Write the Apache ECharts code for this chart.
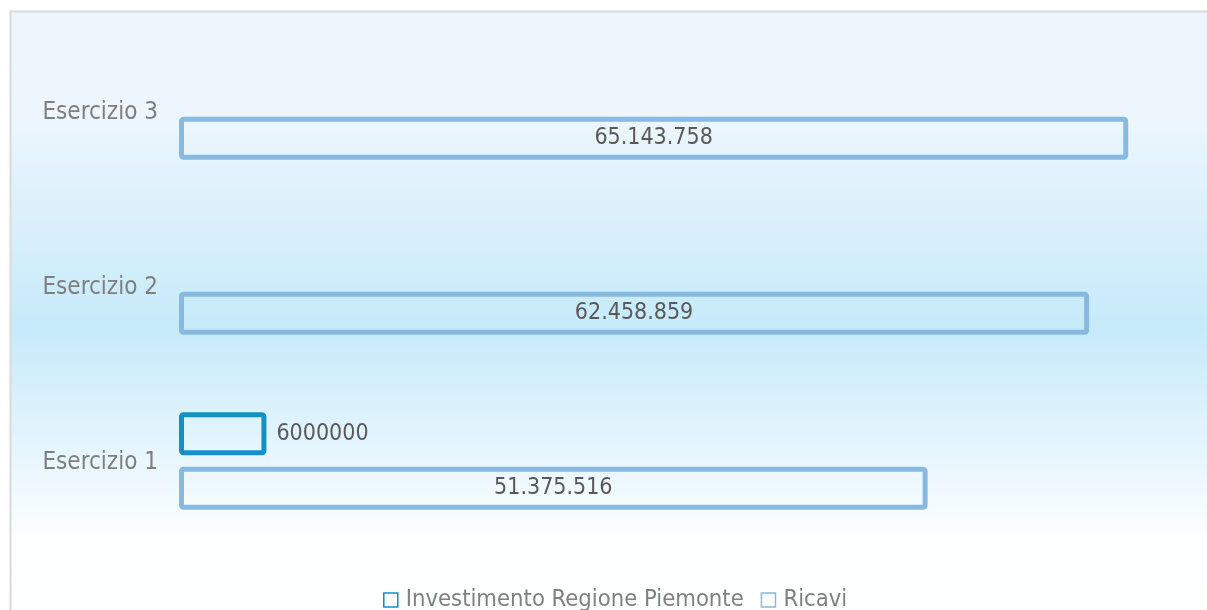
<!DOCTYPE html>
<html>
<head>
<meta charset="utf-8">
<script src="https://cdn.jsdelivr.net/npm/echarts@6/dist/echarts.min.js"></script>
<style>
  html, body { margin: 0; padding: 0; background: #ffffff; }
  #chart { width: 1207px; height: 610px; }
</style>
</head>
<body>
<div id="chart"></div>
<script>
// Categories (bottom to top) and series values
const categories = ['Esercizio 1', 'Esercizio 2', 'Esercizio 3'];
const investimento = [6000000, null, null];
const ricavi = [51375516, 62458859, 65143758];
const seriesNames = ['Investimento Regione Piemonte', 'Ricavi'];

const FONT = '"DejaVu Sans Condensed", "DejaVu Sans", sans-serif';

// Italian thousands separator: 65143758 -> 65.143.758
function formatDots(v) {
  return String(v).replace(/\B(?=(\d{3})+(?!\d))/g, '.');
}

const chart = echarts.init(document.getElementById('chart'), null, { renderer: 'canvas' });

chart.setOption({
  animation: false,
  backgroundColor: '#ffffff',
  graphic: [{
    type: 'rect',
    z: -10,
    silent: true,
    shape: { x: 10.5, y: 11.5, width: 1210, height: 610 },
    style: {
      stroke: '#dadada',
      lineWidth: 2,
      fill: {
        type: 'linear', x: 0, y: 0, x2: 0, y2: 1,
        colorStops: [
          { offset: 0, color: '#eef5fd' },
          { offset: 0.17, color: '#edf6fd' },
          { offset: 0.52, color: '#c6eafa' },
          { offset: 0.86, color: '#fcfeff' },
          { offset: 1, color: '#ffffff' }
        ]
      }
    }
  }],
  grid: { left: 179, top: 23.5, height: 525, width: 1020, containLabel: false },
  xAxis: {
    type: 'value',
    min: 0,
    max: 70000000,
    show: false
  },
  yAxis: {
    type: 'category',
    data: categories,
    axisLine: { show: false },
    axisTick: { show: false },
    splitLine: { show: false },
    axisLabel: {
      margin: 21,
      formatter: v => '{c|' + v + '}',
      rich: {
        c: {
          color: '#7f7f7f',
          fontFamily: FONT,
          fontSize: 24,
          padding: [4, 0, 0, 0]
        }
      }
    }
  },
  legend: {
    data: [
      { name: seriesNames[0], itemStyle: { color: '#ffffff', borderColor: '#1490c4', borderWidth: 1.5 } },
      { name: seriesNames[1], itemStyle: { color: '#ffffff', borderColor: '#88b9e0', borderWidth: 1.5 } }
    ],
    left: 378,
    top: 583,
    icon: 'rect',
    itemWidth: 14,
    itemHeight: 14,
    itemGap: 17,
    textStyle: { color: '#808080', fontFamily: FONT, fontSize: 23.6, padding: [0, 0, 0, 3] }
  },
  series: [
    {
      name: seriesNames[0],
      type: 'bar',
      data: investimento,
      barWidth: 43,
      barGap: '27%',
      itemStyle: {
        color: 'rgba(255,255,255,0)',
        borderColor: '#1490c4',
        borderWidth: 5,
        borderRadius: 2
      },
      label: {
        show: true,
        position: 'right',
        distance: 10,
        color: '#595959',
        fontFamily: FONT,
        fontSize: 23
      }
    },
    {
      name: seriesNames[1],
      type: 'bar',
      data: ricavi,
      barWidth: 43,
      barGap: '27%',
      itemStyle: {
        color: 'rgba(255,255,255,0)',
        borderColor: '#88b9e0',
        borderWidth: 5,
        borderRadius: 2
      },
      label: {
        show: true,
        position: 'inside',
        color: '#595959',
        fontFamily: FONT,
        fontSize: 23,
        formatter: p => formatDots(p.value)
      }
    }
  ]
});
</script>
</body>
</html>
